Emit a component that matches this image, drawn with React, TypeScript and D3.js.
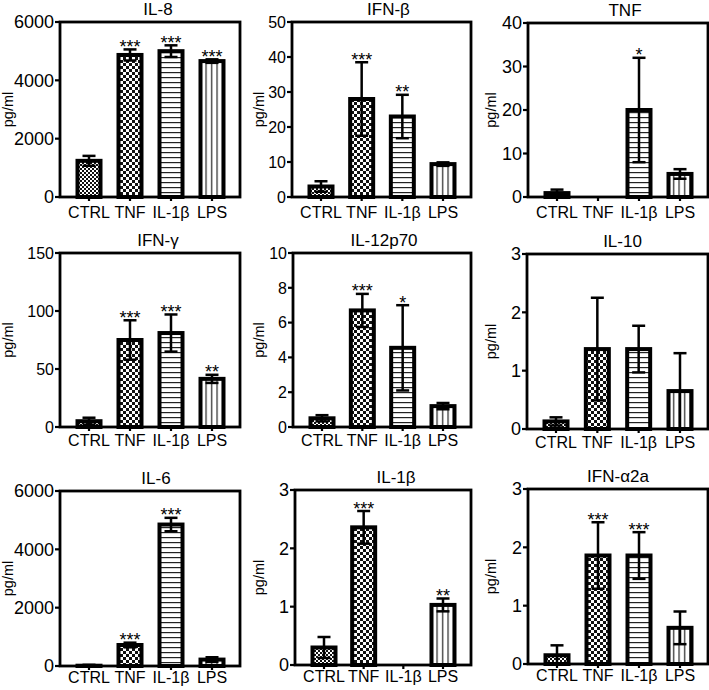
import React from "react";
import * as d3 from "d3";

const CATEGORIES = ["CTRL", "TNF", "IL-1β", "LPS"];
const PATTERN_IDS = ["pFine", "pCheck", "pHLines", "pVLines"];

const TITLES = ["IL-8", "IFN-β", "TNF", "IFN-γ", "IL-12p70", "IL-10", "IL-6", "IL-1β", "IFN-α2a"];

const IL8_MEAN = [1240, 4870, 5000, 4660];
const IL8_ERR = [170, 190, 200, 60];
const IL8_SIG = ["", "***", "***", "***"];
const IL8_TICKS = [0, 2000, 4000, 6000];

const IFNB_MEAN = [3.0, 28.0, 23.0, 9.4];
const IFNB_ERR = [1.5, 10.5, 6.2, 0.5];
const IFNB_SIG = ["", "***", "**", ""];
const IFNB_TICKS = [0, 10, 20, 30, 40, 50];

const TNF_MEAN = [0.9, 0, 20.0, 5.3];
const TNF_ERR = [0.8, 0, 12.0, 1.1];
const TNF_SIG = ["", "", "*", ""];
const TNF_TICKS = [0, 10, 20, 30, 40];

const IFNG_MEAN = [5, 75, 81, 41.5];
const IFNG_ERR = [3, 17, 16, 3.5];
const IFNG_SIG = ["", "***", "***", "**"];
const IFNG_TICKS = [0, 50, 100, 150];

const IL12_MEAN = [0.5, 6.7, 4.55, 1.2];
const IL12_ERR = [0.18, 0.95, 2.45, 0.18];
const IL12_SIG = ["", "***", "*", ""];
const IL12_TICKS = [0, 2, 4, 6, 8, 10];

const IL10_MEAN = [0.13, 1.37, 1.37, 0.65];
const IL10_ERR = [0.07, 0.88, 0.4, 0.65];
const IL10_SIG = ["", "", "", ""];
const IL10_TICKS = [0, 1, 2, 3];

const IL6_MEAN = [10, 720, 4850, 220];
const IL6_ERR = [30, 80, 230, 80];
const IL6_SIG = ["", "***", "***", ""];
const IL6_TICKS = [0, 2000, 4000, 6000];

const IL1B_MEAN = [0.3, 2.36, 0, 1.03];
const IL1B_ERR = [0.18, 0.28, 0, 0.11];
const IL1B_SIG = ["", "***", "", "**"];
const IL1B_TICKS = [0, 1, 2, 3];

const IFNA_MEAN = [0.15, 1.86, 1.86, 0.62];
const IFNA_ERR = [0.17, 0.57, 0.4, 0.28];
const IFNA_SIG = ["", "***", "***", ""];
const IFNA_TICKS = [0, 1, 2, 3];

const MEANS = [IL8_MEAN, IFNB_MEAN, TNF_MEAN, IFNG_MEAN, IL12_MEAN, IL10_MEAN, IL6_MEAN, IL1B_MEAN, IFNA_MEAN];
const ERRS = [IL8_ERR, IFNB_ERR, TNF_ERR, IFNG_ERR, IL12_ERR, IL10_ERR, IL6_ERR, IL1B_ERR, IFNA_ERR];
const SIGS = [IL8_SIG, IFNB_SIG, TNF_SIG, IFNG_SIG, IL12_SIG, IL10_SIG, IL6_SIG, IL1B_SIG, IFNA_SIG];
const TICKS = [IL8_TICKS, IFNB_TICKS, TNF_TICKS, IFNG_TICKS, IL12_TICKS, IL10_TICKS, IL6_TICKS, IL1B_TICKS, IFNA_TICKS];

// layout (positions only)
const LAYOUT = [
  { l: 60, r: 240, t: 22, b: 197, tf: 18, lg: 21, yl: 51, tdx: 8 },
  { l: 292, r: 471, t: 22, b: 197, tf: 16, lg: 21, yl: 32, tdx: 7 },
  { l: 528, r: 708, t: 23, b: 197, tf: 18, lg: 21, yl: 36, tdx: 7 },
  { l: 60, r: 240, t: 253, b: 427, tf: 16, lg: 19, yl: 51, tdx: 8 },
  { l: 293, r: 471, t: 253, b: 427, tf: 16, lg: 19, yl: 33, tdx: 2 },
  { l: 527, r: 708, t: 254, b: 429, tf: 18, lg: 19, yl: 35, tdx: 5 },
  { l: 60, r: 240, t: 491, b: 666, tf: 18, lg: 17, yl: 51, tdx: 6 },
  { l: 295, r: 471, t: 490, b: 665, tf: 18, lg: 17, yl: 35, tdx: 13 },
  { l: 528, r: 708, t: 489, b: 664, tf: 18, lg: 17, yl: 36, tdx: 0 },
];

const FONT = "'Liberation Sans', Arial, Helvetica, sans-serif";

function Panel({ idx }: { idx: number }) {
  const L = LAYOUT[idx];
  const ticks = TICKS[idx];
  const y = d3.scaleLinear().domain([0, ticks[ticks.length - 1]]).range([L.b, L.t]);
  const x = d3.scalePoint<string>().domain(CATEGORIES).range([L.l + 29, L.r - 28]);
  const means = MEANS[idx];
  const errs = ERRS[idx];
  const sigs = SIGS[idx];
  const bw = 23;
  const cap = 6.5;
  return (
    <g>
      <text x={(L.l + L.r) / 2 + L.tdx} y={L.t - 7} textAnchor="middle" fontSize={17} fontFamily={FONT}>
        {TITLES[idx]}
      </text>
      <text
        transform={`translate(${L.l - L.yl},${(L.t + L.b) / 2}) rotate(-90)`}
        textAnchor="middle"
        dy="0.3em"
        fontSize={14.5}
        fontFamily={FONT}
      >
        pg/ml
      </text>
      {ticks.map((t) => (
        <g key={t}>
          <line x1={L.l - 5} x2={L.l} y1={y(t)} y2={y(t)} stroke="#000" strokeWidth={2.2} />
          <text x={L.l - 6} y={y(t)} dy="0.36em" textAnchor="end" fontSize={L.tf} fontFamily={FONT}>
            {t}
          </text>
        </g>
      ))}
      {CATEGORIES.map((c) => (
        <g key={c}>
          <line x1={x(c)} x2={x(c)} y1={L.b} y2={L.b + 4} stroke="#000" strokeWidth={2.2} />
          <text x={x(c)} y={L.b + L.lg} textAnchor="middle" fontSize={16} fontFamily={FONT}>
            {c}
          </text>
        </g>
      ))}
      {CATEGORIES.map((c, i) => {
        const m = means[i];
        if (m <= 0) return null;
        const cx = x(c) as number;
        const e = errs[i];
        const yTop = y(m + e);
        const yBot = y(Math.max(0, m - e));
        return (
          <g key={c}>
            <rect
              x={cx - bw / 2}
              y={y(m)}
              width={bw}
              height={y(0) - y(m)}
              fill={`url(#${PATTERN_IDS[i]})`}
              stroke="#000"
              strokeWidth={4}
            />
            <line x1={cx} x2={cx} y1={yTop} y2={yBot} stroke="#000" strokeWidth={2.5} />
            <line x1={cx - cap} x2={cx + cap} y1={yTop} y2={yTop} stroke="#000" strokeWidth={2.5} />
            <line x1={cx - cap} x2={cx + cap} y1={yBot} y2={yBot} stroke="#000" strokeWidth={2.5} />
            {sigs[i] && (
              <text x={cx} y={yTop + 3.5} textAnchor="middle" fontSize={18} fontFamily={FONT} fill="#000">
                {sigs[i]}
              </text>
            )}
          </g>
        );
      })}
      <rect x={L.l} y={L.t} width={L.r - L.l} height={L.b - L.t} fill="none" stroke="#000" strokeWidth={2.8} />
    </g>
  );
}

export default function App() {
  return (
    <svg
      width={709}
      height={690}
      style={{ position: "absolute", left: 0, top: 0, background: "#fff" }}
      xmlns="http://www.w3.org/2000/svg"
    >
      <defs>
        <pattern id="pFine" width={4} height={4} patternUnits="userSpaceOnUse">
          <rect width={4} height={4} fill="#fff" />
          <rect width={2} height={2} fill="#111" />
          <rect x={2} y={2} width={2} height={2} fill="#111" />
        </pattern>
        <pattern id="pCheck" width={6} height={6} patternUnits="userSpaceOnUse">
          <rect width={6} height={6} fill="#fff" />
          <rect width={3} height={3} fill="#111" />
          <rect x={3} y={3} width={3} height={3} fill="#111" />
        </pattern>
        <pattern id="pHLines" width={5} height={5} patternUnits="userSpaceOnUse">
          <rect width={5} height={5} fill="#fff" />
          <rect y={2} width={5} height={1.2} fill="#222" />
        </pattern>
        <pattern id="pVLines" width={5.5} height={5.5} patternUnits="userSpaceOnUse">
          <rect width={5.5} height={5.5} fill="#fff" />
          <rect x={2} width={1.2} height={5.5} fill="#222" />
        </pattern>
      </defs>
      <rect width={709} height={690} fill="#fff" />
      {TITLES.map((t, i) => (
        <Panel key={t} idx={i} />
      ))}
    </svg>
  );
}
